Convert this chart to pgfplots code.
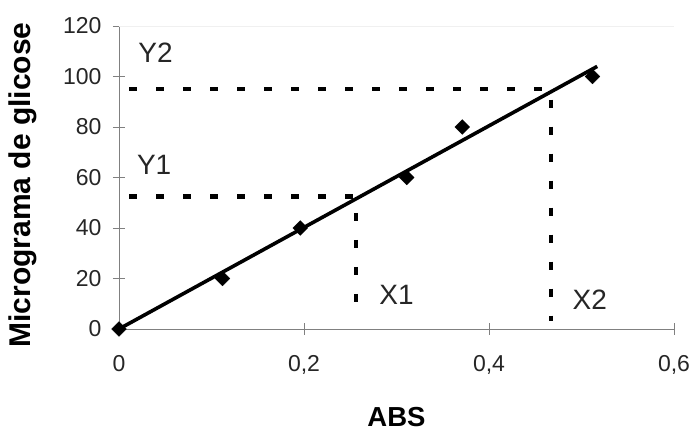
\documentclass[border=0pt]{standalone}
\usepackage{fontspec}
\setmainfont{Liberation Sans}
\usepackage{pgfplots}
\pgfplotsset{compat=1.18}
\usetikzlibrary{plotmarks}
\begin{document}
\begin{tikzpicture}[x=1pt,y=1pt]
\path[use as bounding box] (0,0) rectangle (694,431);
\begin{axis}[
  at={(119pt,102pt)}, anchor=south west,
  scale only axis, width=555pt, height=303pt,
  xmin=0, xmax=0.6, ymin=0, ymax=120,
  axis x line=bottom, axis y line=left,
  axis line style={-, draw=black!50, line width=0.8pt},
  xtick={0,0.2,0.4,0.6}, ytick={0,20,...,120},
  tick align=center, major tick length=12pt,
  tick style={draw=black!50, line width=0.8pt},
  /pgf/number format/assume math mode=true,
  /pgf/number format/use comma,
  xticklabel style={/pgf/number format/fixed, yshift=-17pt},
  yticklabel style={xshift=-8pt},
  tick label style={font=\fontsize{23}{27}\selectfont, text=black!85},
  xlabel={ABS}, ylabel={Micrograma de glicose},
  every axis x label/.style={at={(axis description cs:0.5,-0.289)}, anchor=center, inner sep=1pt, font=\fontsize{27.5}{32}\selectfont\bfseries},
  every axis y label/.style={at={(axis description cs:-0.173,0.475)}, rotate=90, anchor=center, font=\fontsize{30}{34}\selectfont\bfseries},
  clip=false,
]
% faint plot area top border
\addplot[draw=black!6, line width=0.6pt, forget plot] coordinates {(0,120) (0.6,120)};
% dashed guide lines
\addplot[black, line width=4.2pt, dash pattern=on 8pt off 19pt] coordinates {(0.011,95) (0.4666,95) (0.4666,3)};
\addplot[black, line width=4.2pt, dash pattern=on 8pt off 19pt] coordinates {(0.011,52.5) (0.256,52.5) (0.256,5.6)};
% trend line
\addplot[black, line width=3.6pt] coordinates {(0,0) (0.517,104)};
% data points
\addplot[only marks, mark=square*, mark size=5.2pt, mark options={rotate=45, fill=black, draw=black}] coordinates {
(0,0) (0.112,20) (0.196,40) (0.311,60) (0.371,80) (0.512,100)};
\node[font=\fontsize{28}{32}\selectfont, text=black!85] at (axis cs:0.0395,109.3) {Y2};
\node[font=\fontsize{28}{32}\selectfont, text=black!85] at (axis cs:0.038,64.9) {Y1};
\node[font=\fontsize{28}{32}\selectfont, text=black!85] at (axis cs:0.300,13.6) {X1};
\node[font=\fontsize{28}{32}\selectfont, text=black!85] at (axis cs:0.509,11.5) {X2};
\end{axis}
\end{tikzpicture}
\end{document}
